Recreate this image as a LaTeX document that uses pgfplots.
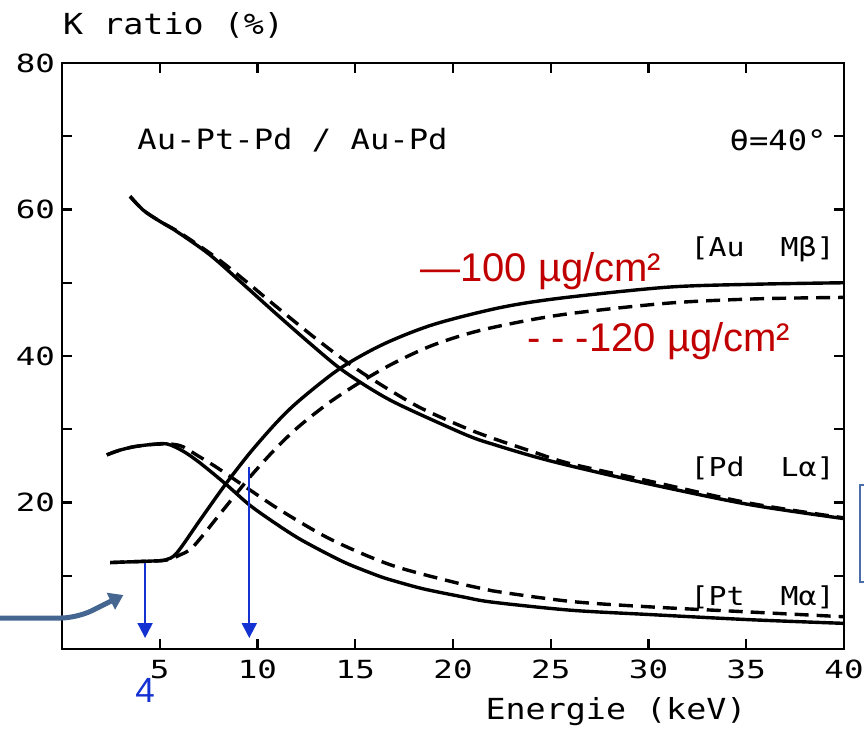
\documentclass[border=0pt]{standalone}
\usepackage{pgfplots}
\pgfplotsset{compat=1.18}
\usepackage{pgfplotstable}
\usepackage{fontspec}
\usetikzlibrary{arrows.meta}

\newfontfamily\plotfont[FakeStretch=1.15]{DejaVu Sans Mono}
\newfontfamily\tickfont[FakeStretch=1.3]{DejaVu Sans Mono}
\newfontfamily\arialfont{Liberation Sans}

\definecolor{annred}{RGB}{192,0,0}
\definecolor{annblue}{RGB}{20,50,210}
\definecolor{annsteel}{RGB}{68,102,145}
\definecolor{annframe}{RGB}{75,110,170}

% K ratio (%) versus beam energy (keV)
% A: 100 ug/cm2 layer (solid), B: 120 ug/cm2 layer (dashed)
\pgfplotstableread{
E K
2.46 11.8
3.5 11.9
4.5 12.0
5.27 12.15
5.87 13.1
7.06 17.6
8.34 22.4
9.62 26.8
11.0 31.0
12.17 34.0
14.22 38.3
16.43 41.6
19.0 44.3
22.4 46.6
25.5 47.9
31.0 49.4
35.5 49.8
40 50.0
}\AuA
\pgfplotstableread{
E K
2.46 11.8
3.5 11.9
4.5 12.0
5.36 12.15
6.0 12.8
6.72 14.0
8.25 19.0
9.62 23.5
10.98 27.5
12.17 30.5
13.7 33.7
15.24 36.4
16.95 39.0
18.99 41.5
21.55 43.6
25.47 45.6
30.93 47.2
35.5 47.8
40 48.0
}\AuB
\pgfplotstableread{
E K
3.48 61.8
4.16 59.9
5.0 58.4
5.87 57.0
7.57 53.8
9.27 49.8
10.98 45.7
12.69 41.7
14.22 38.3
15.8 35.5
17.29 33.3
20.7 29.2
22.23 27.8
24.11 26.3
26.0 25.0
30.08 22.5
35.19 19.7
40 17.8
}\PdA
\pgfplotstableread{
E K
3.48 61.8
4.16 59.9
5.0 58.4
5.87 57.1
6.72 55.6
8.0 53.2
9.27 50.5
10.98 46.7
12.69 43.0
14.05 40.2
15.59 37.3
18.14 33.2
20.53 30.3
22.0 28.8
24.11 26.9
26.0 25.3
30.08 22.9
35.19 19.9
40 17.9
}\PdB
\pgfplotstableread{
E K
2.29 26.5
2.9 27.1
3.65 27.6
4.5 27.9
5.36 28.0
6.2 27.0
7.06 25.4
8.34 22.6
9.62 19.6
11.0 17.0
12.17 15.0
13.71 12.8
14.73 11.5
16.27 9.9
17.12 9.2
18.5 8.2
20.53 7.1
22.0 6.4
26.0 5.3
30.08 4.7
35.19 4.0
40 3.5
}\PtA
\pgfplotstableread{
E K
2.29 26.5
2.9 27.1
3.65 27.6
4.5 27.9
5.36 28.0
5.8 27.9
6.2 27.6
7.0 26.3
7.91 24.8
9.62 21.7
11.32 18.7
13.8 14.9
16.9 11.4
20.53 8.8
22.0 7.95
26.0 6.5
30.08 5.75
35.19 5.05
40 4.4
}\PtB

\pgfplotsset{
  thin100/.style={black, line width=1.7pt, smooth, no markers},
  thick120/.style={black, line width=1.7pt, smooth, no markers, dash pattern=on 7pt off 4pt},
}

\begin{document}
\begin{tikzpicture}
\begin{axis}[
  scale only axis,
  width=391pt, height=293pt,
  xmin=0, xmax=40, ymin=0, ymax=80,
  xtick={5,10,15,20,25,30,35,40},
  xticklabels={5,10,15,20,25,30,35,40},
  ytick={10,20,30,40,50,60,70,80},
  yticklabels={,20,,40,,60,,80},
  tick align=inside,
  major tick length=5pt,
  tick style={line width=1.2pt, black},
  axis line style={line width=1.4pt},
  xticklabel style={font=\tickfont\fontsize{12.5}{13}\selectfont, anchor=north, yshift=-2pt},
  yticklabel style={font=\tickfont\fontsize{12.5}{13}\selectfont, anchor=east},
  /pgf/number format/assume math mode=true,
  xlabel={Energie (keV)},
  xlabel style={font=\plotfont\fontsize{14.5}{15}\selectfont, at={(rel axis cs:0.7085,-0.1075)}, anchor=center, inner sep=0pt},
  ylabel={K ratio (\%)},
  ylabel style={font=\plotfont\fontsize{14.5}{15}\selectfont, rotate=-90, at={(rel axis cs:0.001,1.065)}, anchor=west, inner sep=0pt},
  clip=false,
]
\addplot[thin100] table[x=E, y=K] {\AuA};
\addplot[thin100] table[x=E, y=K] {\PdA};
\addplot[thin100] table[x=E, y=K] {\PtA};
\addplot[thick120] table[x=E, y=K] {\AuB};
\addplot[thick120] table[x=E, y=K] {\PdB};
\addplot[thick120] table[x=E, y=K] {\PtB};

% labels inside the frame
\node[anchor=west, inner sep=0pt, font=\plotfont\fontsize{14}{15}\selectfont] at (axis cs:3.84,69.5) {Au-Pt-Pd / Au-Pd};
\node[anchor=east, inner sep=0pt, font=\plotfont\fontsize{14}{15}\selectfont] at (axis cs:39.13,69.5) {θ=40°};
\node[anchor=east, inner sep=0pt, font=\plotfont\fontsize{13}{14}\selectfont] at (axis cs:39.54,54.6) {[Au\ \ Mβ]};
\node[anchor=east, inner sep=0pt, font=\plotfont\fontsize{13}{14}\selectfont] at (axis cs:39.54,24.6) {[Pd\ \ Lα]};
\node[anchor=east, inner sep=0pt, font=\plotfont\fontsize{13}{14}\selectfont] at (axis cs:39.54,7.1) {[Pt\ \ Mα]};

% layer thickness key
\node[anchor=base west, inner sep=0pt, text=annred, font=\arialfont\fontsize{20}{22}\selectfont] at (axis cs:18.31,50.15) {—100 µg/cm²};
\node[anchor=base west, inner sep=0pt, text=annred, font=\arialfont\fontsize{20}{22}\selectfont] at (axis cs:23.77,40.59) {- - -120 µg/cm²};

% marked energies
\draw[annblue, line width=1pt, -{Triangle[width=7.5pt,length=7.5pt]}] (axis cs:4.25,11.8) -- (axis cs:4.25,1.5);
\draw[annblue, line width=1pt, -{Triangle[width=7.5pt,length=7.5pt]}] (axis cs:9.58,24.9) -- (axis cs:9.58,1.5);
\node[anchor=base, inner sep=0pt, text=annblue, font=\arialfont\fontsize{17.5}{18}\selectfont] at (axis cs:4.25,-7.37) {4};
\draw[annsteel, line width=2.5pt, rounded corners=8pt, -{Triangle[width=9pt,length=7pt]}] (axis cs:-3.3,4.23) -- (axis cs:0.77,4.23) -- (axis cs:3.14,7.37);
\draw[annframe, line width=0.8pt] (axis cs:43.5,22.39) -- (axis cs:40.82,22.39) -- (axis cs:40.82,9.15) -- (axis cs:43.5,9.15);
\end{axis}
\pgfresetboundingbox
\path[use as bounding box] ([xshift=-31pt,yshift=-41pt]current axis.south west) rectangle ([xshift=10pt,yshift=31.5pt]current axis.north east);
\end{tikzpicture}
\end{document}
